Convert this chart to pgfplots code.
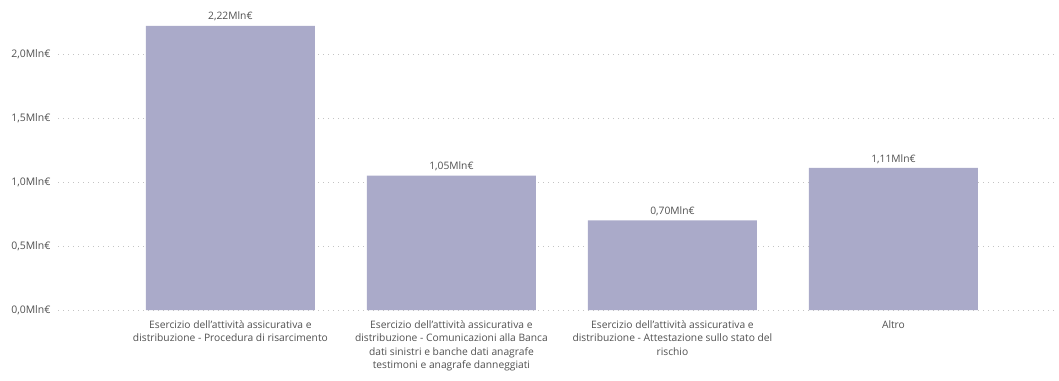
\documentclass[border=0pt]{standalone}
\usepackage{fontspec}
\setmainfont{Open Sans}
\usepackage{pgfplots}
\pgfplotsset{compat=1.18}
\definecolor{barc}{HTML}{AAAAC9}
\definecolor{txt}{HTML}{505050}
\definecolor{gridc}{HTML}{C4C4C4}
\begin{document}
\begin{tikzpicture}
\useasboundingbox (0,0) rectangle (1059bp,381bp);
\begin{axis}[
  at={(58bp,71bp)}, anchor=south west,
  scale only axis, width=999bp, height=294.4bp,
  xmin=-0.78, xmax=3.74, ymin=0, ymax=2.3,
  axis line style={draw=none},
  major tick length=0pt,
  ymajorgrids,
  grid style={gridc, line width=0.8bp, dash pattern=on 1bp off 4bp},
  ytick={0,0.5,1,1.5,2},
  yticklabels={{0,0Mln€},{0,5Mln€},{1,0Mln€},{1,5Mln€},{2,0Mln€}},
  yticklabel style={font=\fontsize{10.5}{12}\selectfont, text=txt, xshift=-4bp},
  xtick={0,1,2,3},
  xticklabels={
    {Esercizio dell'attività assicurativa e\\distribuzione - Procedura di risarcimento},
    {Esercizio dell'attività assicurativa e\\distribuzione - Comunicazioni alla Banca\\dati sinistri e banche dati anagrafe\\testimoni e anagrafe danneggiati},
    {Esercizio dell'attività assicurativa e\\distribuzione - Attestazione sullo stato del\\rischio},
    {Altro}},
  xticklabel style={font=\fontsize{10.3}{13.5}\selectfont, text=txt, align=center, anchor=north, yshift=-7bp},
  ybar, bar width=169bp, bar shift=0pt,
  nodes near coords, point meta=explicit symbolic,
  nodes near coords style={font=\fontsize{10.3}{12}\selectfont, text=txt, anchor=south, yshift=1bp},
  clip=false,
]
\addplot[fill=barc, draw=none] coordinates {
  (0,2.22) [2,22Mln€]
  (1,1.05) [1,05Mln€]
  (2,0.70) [0,70Mln€]
  (3,1.11) [1,11Mln€]
};
\end{axis}
\end{tikzpicture}
\end{document}
